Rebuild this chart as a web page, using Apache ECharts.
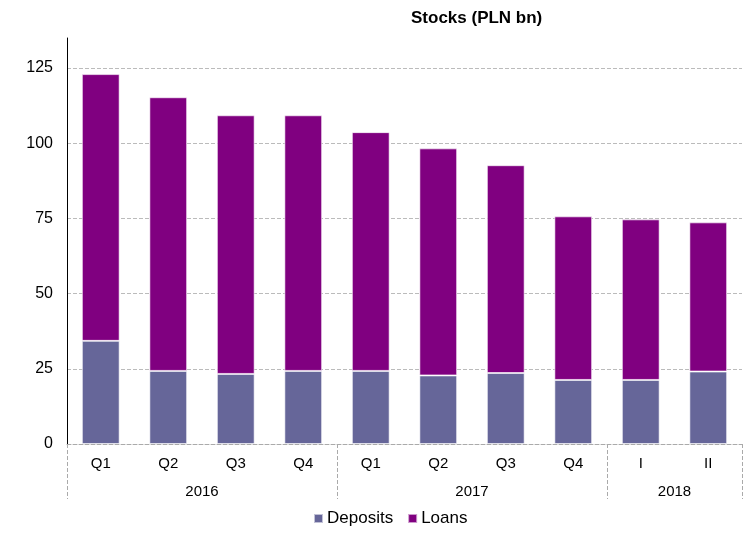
<!DOCTYPE html>
<html>
<head>
<meta charset="utf-8">
<script src="https://cdn.jsdelivr.net/npm/echarts@6/dist/echarts.min.js"></script>
<style>
  html, body { margin: 0; padding: 0; background: #fff; }
  #chart { width: 745px; height: 534px; }
</style>
</head>
<body>
<div id="chart"></div>
<script>
// quarters on the lower axis, years underneath
var quarters = ['Q1', 'Q2', 'Q3', 'Q4', 'Q1', 'Q2', 'Q3', 'Q4', 'I', 'II'];
var years = ['2016', '2017', '2018'];
var yearCenters = [2, 6, 9];      // middle of each year group (in category units)
var yearBounds = [0, 4, 8, 10];   // separators between year groups
var deposits = [34.3, 24.3, 23.3, 24.3, 24.3, 22.8, 23.6, 21.3, 21.3, 24.1];
var loans = [88.7, 91.0, 86.0, 85.0, 79.4, 75.5, 69.1, 54.4, 53.4, 49.6];

var myChart = echarts.init(document.getElementById('chart'));

var option = {
  animation: false,
  textStyle: { fontFamily: 'Liberation Sans, Arial, sans-serif' },
  title: {
    text: 'Stocks (PLN bn)',
    left: 406,
    top: 5,
    textStyle: { fontSize: 17, fontWeight: 'bold', color: '#000' }
  },
  legend: {
    bottom: 2,
    left: 308,
    itemWidth: 9,
    itemHeight: 9,
    itemGap: 14,
    icon: 'rect',
    textStyle: { fontSize: 17, color: '#000', padding: [0, 0, 0, -1] },
    data: ['Deposits', 'Loans']
  },
  grid: { left: 67, right: 3, top: 38, bottom: 90 },
  xAxis: [
    {
      type: 'category',
      data: quarters,
      axisLine: { lineStyle: { color: '#aaa', type: 'dashed' } },
      axisTick: { show: false },
      axisLabel: { fontSize: 15, color: '#000', margin: 12 }
    },
    {
      type: 'value',
      position: 'bottom',
      min: 0,
      max: 10,
      interval: 1,
      axisLine: { show: false },
      splitLine: { show: false },
      axisTick: {
        show: true,
        customValues: yearBounds,
        length: 55,
        lineStyle: { color: '#aaa', type: 'dashed' }
      },
      axisLabel: {
        customValues: yearCenters,
        fontSize: 15,
        color: '#000',
        margin: 40,
        formatter: function (v) {
          return years[yearCenters.indexOf(v)];
        }
      }
    }
  ],
  yAxis: {
    type: 'value',
    min: 0,
    max: 135,
    interval: 25,
    axisLine: { show: true, lineStyle: { color: '#000' } },
    axisTick: { show: false },
    axisLabel: { fontSize: 16, color: '#000', margin: 14, showMaxLabel: false },
    splitLine: {
      showMaxLine: false,
      lineStyle: { color: '#bbb', type: 'dashed' }
    }
  },
  series: [
    {
      name: 'Deposits',
      type: 'bar',
      stack: 'total',
      barWidth: '56%',
      data: deposits,
      itemStyle: { color: '#666699', borderColor: 'rgba(255,255,255,0.6)', borderWidth: 1 }
    },
    {
      name: 'Loans',
      type: 'bar',
      stack: 'total',
      data: loans,
      itemStyle: { color: '#800080', borderColor: 'rgba(255,255,255,0.6)', borderWidth: 1 }
    }
  ]
};

myChart.setOption(option);
</script>
</body>
</html>
